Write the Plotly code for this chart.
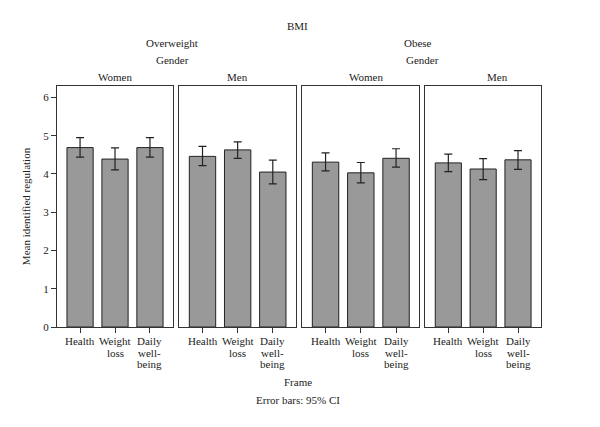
import plotly.graph_objects as go

frames = ["Health", "Weight loss", "Daily well-being"]
frame_label_lines = [["Health"], ["Weight", "loss"], ["Daily", "well-", "being"]]
panels = ["Overweight / Women", "Overweight / Men", "Obese / Women", "Obese / Men"]
means = [
    [4.69, 4.39, 4.69],
    [4.46, 4.63, 4.05],
    [4.31, 4.03, 4.41],
    [4.29, 4.13, 4.37],
]
ci_upper = [
    [4.95, 4.68, 4.95],
    [4.72, 4.84, 4.36],
    [4.55, 4.30, 4.66],
    [4.52, 4.40, 4.61],
]
ci_lower = [
    [4.44, 4.11, 4.44],
    [4.22, 4.41, 3.74],
    [4.08, 3.77, 4.18],
    [4.06, 3.85, 4.12],
]
y_ticks = [0, 1, 2, 3, 4, 5, 6]

FONT = "Liberation Serif"
TXT = "#222222"
domains = [[0.0, 0.2397], [0.2527, 0.4938], [0.5068, 0.7486], [0.7610, 1.0]]

L, R, T, B = 57, 59, 86, 100
W, H = 600 - L - R, 427 - T - B
def px(x): return (x - L) / W
def py(y): return (427 - B - y) / H

fig = go.Figure()
for i in range(4):
    sfx = "" if i == 0 else str(i + 1)
    plus = [u - m for u, m in zip(ci_upper[i], means[i])]
    minus = [m - l for m, l in zip(means[i], ci_lower[i])]
    fig.add_trace(go.Bar(
        x=frames, y=means[i],
        xaxis="x" + sfx, yaxis="y" + sfx,
        width=0.75,
        marker=dict(color="#999999", line=dict(color="#222222", width=1)),
        error_y=dict(type="data", array=plus, arrayminus=minus, visible=True,
                     color="#222222", thickness=1.2, width=4),
        showlegend=False, hoverinfo="y",
    ))
    xa = dict(domain=domains[i], anchor="y" + sfx, range=[0.34 - 1, 3.66 - 1],
              tickmode="array", tickvals=frames, showticklabels=False,
              ticks="outside", ticklen=5, tickcolor="#333333",
              showline=True, mirror=True, linecolor="#333333", linewidth=1,
              showgrid=False, zeroline=False)
    ya = dict(anchor="x" + sfx, range=[0, 6.3], showgrid=False, zeroline=False,
              showline=True, mirror=True, linecolor="#333333", linewidth=1,
              tickvals=y_ticks)
    if i == 0:
        ya.update(ticks="outside", ticklen=5, tickcolor="#333333",
                  tickfont=dict(family=FONT, size=11, color=TXT),
                  title=dict(text="Mean identified regulation",
                             font=dict(family=FONT, size=11, color=TXT), standoff=10))
    else:
        ya.update(matches="y", showticklabels=False, ticks="")
    fig.layout["xaxis" + sfx] = xa
    fig.layout["yaxis" + sfx] = ya
    # multi-line category labels with tight line spacing
    for cat, lines in zip(frames, frame_label_lines):
        for k, line in enumerate(lines):
            fig.add_annotation(text=line, x=cat, xref="x" + sfx,
                               y=py(341 + 11.5 * k), yref="paper",
                               xanchor="center", yanchor="middle", showarrow=False,
                               font=dict(family=FONT, size=11, color=TXT))

def ann(text, x, y):
    fig.add_annotation(text=text, x=x, y=y, xref="paper", yref="paper",
                       xanchor="center", yanchor="middle", showarrow=False,
                       font=dict(family=FONT, size=11, color=TXT))

ann("BMI", px(297), py(26))
ann("Overweight", px(172), py(43))
ann("Obese", px(418), py(43))
ann("Gender", px(172), py(60))
ann("Gender", px(422), py(60))
for cx, t in zip([115, 237, 366, 497], ["Women", "Men", "Women", "Men"]):
    ann(t, px(cx), py(77))
ann("Frame", px(298), py(382))
ann("Error bars: 95% CI", px(298), py(400))

fig.update_layout(
    width=600, height=427,
    margin=dict(l=L, r=R, t=T, b=B, autoexpand=False),
    paper_bgcolor="white", plot_bgcolor="white",
    font=dict(family=FONT, size=11, color=TXT),
)
fig.write_html("out.html", config={"displayModeBar": False},
               post_script="document.body.style.margin='0';")
